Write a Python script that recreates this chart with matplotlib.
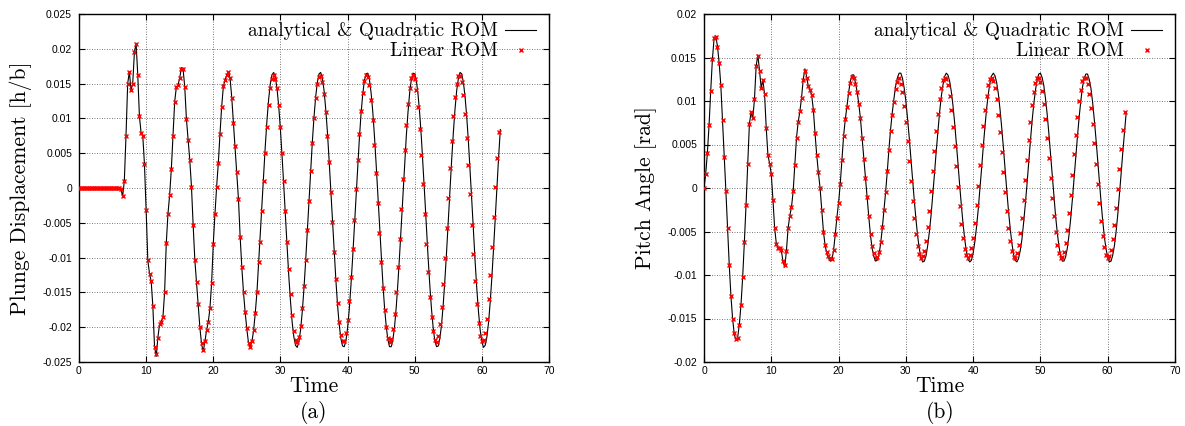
"""Plunge and pitch response of the airfoil: analytical/quadratic ROM against
the linear ROM, two panels side by side in the gnuplot look of the original."""

import matplotlib.pyplot as plt
import numpy as np
from matplotlib.ticker import FuncFormatter

# sampling step of both solutions
dt = 0.25

# (a) plunge displacement h/b, analytical & quadratic ROM
plunge_exact = [0.0] * 25 + [
    -0.0002, -0.0012, 0.0010, 0.0075, 0.0150, 0.0167, 0.0141, 0.0150, 0.0195, 0.0208,
    0.0163, 0.0103, 0.0079, 0.0075, 0.0034, -0.0032, -0.0104, -0.0123, -0.0134, -0.0170,
    -0.0228, -0.0242, -0.0215, -0.0195, -0.0192, -0.0186, -0.0150, -0.0079, -0.0037, -0.0010,
    0.0027, 0.0074, 0.0124, 0.0145, 0.0148, 0.0158, 0.0173, 0.0171, 0.0145, 0.0099,
    0.0069, 0.0040, 0.0002, -0.0053, -0.0103, -0.0135, -0.0166, -0.0200, -0.0224, -0.0235,
    -0.0221, -0.0204, -0.0193, -0.0173, -0.0137, -0.0080, -0.0037, 0.0002, 0.0036, 0.0078,
    0.0117, 0.0146, 0.0155, 0.0162, 0.0167, 0.0158, 0.0130, 0.0094, 0.0060, 0.0023,
    -0.0016, -0.0070, -0.0114, -0.0150, -0.0179, -0.0203, -0.0223, -0.0229, -0.0221, -0.0205,
    -0.0180, -0.0150, -0.0108,
    -0.0068, -0.0024, 0.0020, 0.0061, 0.0098, 0.0128, 0.0150, 0.0163, 0.0166, 0.0159,
    0.0142, 0.0117, 0.0084, 0.0045, 0.0003, -0.0042, -0.0085, -0.0127, -0.0163, -0.0193,
    -0.0214, -0.0226, -0.0229, -0.0221, -0.0204, -0.0178, -0.0145, -0.0106, -0.0063, -0.0019,
    0.0025, 0.0066, 0.0102, 0.0131, 0.0152, 0.0164, 0.0166, 0.0157, 0.0140, 0.0113,
    0.0080, 0.0040, -0.0003, -0.0047, -0.0091, -0.0131, -0.0167, -0.0196, -0.0216, -0.0227,
    -0.0228, -0.0220, -0.0201, -0.0175, -0.0140, -0.0101, -0.0058, -0.0013, 0.0030, 0.0070,
    0.0106, 0.0134, 0.0154, 0.0164, 0.0165, 0.0156, 0.0137, 0.0110, 0.0075, 0.0035,
    -0.0008, -0.0052, -0.0096, -0.0136, -0.0171, -0.0198, -0.0218, -0.0228, -0.0228, -0.0218,
    -0.0199, -0.0171, -0.0136, -0.0096, -0.0053, -0.0008, 0.0035, 0.0075, 0.0109, 0.0137,
    0.0156, 0.0165, 0.0164, 0.0154, 0.0134, 0.0106, 0.0071, 0.0030, -0.0013, -0.0058,
    -0.0101, -0.0140, -0.0174, -0.0201, -0.0220, -0.0228, -0.0227, -0.0216, -0.0196, -0.0167,
    -0.0131, -0.0091, -0.0047, -0.0003, 0.0040, 0.0079, 0.0113, 0.0140, 0.0157, 0.0166,
    0.0164, 0.0152, 0.0131, 0.0102, 0.0066, 0.0025, -0.0018, -0.0063, -0.0106, -0.0145,
    -0.0178, -0.0204, -0.0221, -0.0229, -0.0226, -0.0214, -0.0193, -0.0163, -0.0127, -0.0086,
    -0.0042, 0.0002, 0.0045, 0.0084,
]

# (a) plunge displacement h/b, linear ROM
plunge_linear = [0.0] * 25 + [
    -0.0002, -0.0012, 0.0010, 0.0075, 0.0150, 0.0166, 0.0141, 0.0150, 0.0195, 0.0207,
    0.0163, 0.0103, 0.0079, 0.0075, 0.0034, -0.0032, -0.0104, -0.0123, -0.0134, -0.0170,
    -0.0228, -0.0239, -0.0215, -0.0195, -0.0192, -0.0186, -0.0150, -0.0079, -0.0037, -0.0010,
    0.0027, 0.0074, 0.0124, 0.0145, 0.0148, 0.0158, 0.0171, 0.0171, 0.0145, 0.0099,
    0.0069, 0.0040, 0.0002, -0.0053, -0.0103, -0.0135, -0.0166, -0.0200, -0.0223, -0.0233,
    -0.0220, -0.0204, -0.0193, -0.0173, -0.0137, -0.0080, -0.0037, 0.0002, 0.0036, 0.0078,
    0.0117, 0.0146, 0.0155, 0.0162, 0.0166, 0.0158, 0.0130, 0.0094, 0.0060, 0.0023,
    -0.0016, -0.0070, -0.0114, -0.0150, -0.0178, -0.0201, -0.0222, -0.0228, -0.0220, -0.0204,
    -0.0179, -0.0150, -0.0106,
    -0.0077, -0.0033, 0.0010, 0.0051, 0.0088, 0.0119, 0.0143, 0.0157, 0.0162, 0.0157,
    0.0143, 0.0119, 0.0088, 0.0051, 0.0010, -0.0033, -0.0077, -0.0117, -0.0153, -0.0183,
    -0.0205, -0.0218, -0.0221, -0.0214, -0.0198, -0.0173, -0.0141, -0.0103, -0.0061, -0.0018,
    0.0025, 0.0065, 0.0100, 0.0129, 0.0149, 0.0160, 0.0161, 0.0153, 0.0135, 0.0109,
    0.0075, 0.0037, -0.0006, -0.0049, -0.0092, -0.0131, -0.0165, -0.0192, -0.0211, -0.0220,
    -0.0220, -0.0209, -0.0190, -0.0162, -0.0128, -0.0088, -0.0046, -0.0002, 0.0040, 0.0078,
    0.0111, 0.0137, 0.0154, 0.0162, 0.0159, 0.0148, 0.0127, 0.0097, 0.0062, 0.0022,
    -0.0021, -0.0065, -0.0106, -0.0144, -0.0175, -0.0200, -0.0215, -0.0221, -0.0217, -0.0203,
    -0.0181, -0.0150, -0.0114, -0.0073, -0.0030, 0.0013, 0.0054, 0.0091, 0.0121, 0.0144,
    0.0158, 0.0162, 0.0156, 0.0141, 0.0117, 0.0085, 0.0048, 0.0006, -0.0037, -0.0080,
    -0.0120, -0.0156, -0.0185, -0.0206, -0.0218, -0.0221, -0.0213, -0.0196, -0.0171, -0.0138,
    -0.0100, -0.0058, -0.0014, 0.0029, 0.0068, 0.0103, 0.0131, 0.0150, 0.0161, 0.0161,
    0.0152, 0.0133, 0.0106, 0.0072, 0.0033, -0.0009, -0.0053, -0.0095, -0.0134, -0.0167,
    -0.0194, -0.0212, -0.0220, -0.0219, -0.0208, -0.0188, -0.0160, -0.0125, -0.0085, -0.0042,
    0.0001, 0.0043, 0.0081,
]

# (b) pitch angle [rad], analytical & quadratic ROM
pitch_exact = [
    0.0000, 0.0016, 0.0040, 0.0072, 0.0112, 0.0148, 0.0172, 0.0175, 0.0163, 0.0144,
    0.0118, 0.0078, 0.0036, -0.0003, -0.0046, -0.0088, -0.0124, -0.0150, -0.0168, -0.0175,
    -0.0172, -0.0157, -0.0134, -0.0102, -0.0062, -0.0019, 0.0028, 0.0074, 0.0087, 0.0080,
    0.0102, 0.0140, 0.0153, 0.0135, 0.0115, 0.0124, 0.0108, 0.0069, 0.0038, 0.0028,
    0.0016, -0.0014, -0.0046, -0.0064, -0.0069, -0.0069, -0.0072, -0.0085, -0.0091, -0.0072,
    -0.0046, -0.0032, -0.0022, -0.0004, 0.0027, 0.0058, 0.0076, 0.0088, 0.0104, 0.0125,
    0.0137, 0.0128, 0.0117, 0.0113, 0.0107, 0.0090, 0.0063, 0.0038, 0.0018, 0.0000,
    -0.0025, -0.0050, -0.0066, -0.0075, -0.0080, -0.0084, -0.0083, -0.0072, -0.0054, -0.0034,
    -0.0017, 0.0005, 0.0032, 0.0060, 0.0079, 0.0094, 0.0110, 0.0123, 0.0130, 0.0130,
    0.0121, 0.0111, 0.0097, 0.0080, 0.0057, 0.0033, 0.0011, -0.0011, -0.0034, -0.0055,
    -0.0070, -0.0079, -0.0084, -0.0083, -0.0077, -0.0064, -0.0046, -0.0025, -0.0004, 0.0020,
    0.0046, 0.0069, 0.0088, 0.0104, 0.0118, 0.0127,
    0.0132, 0.0132, 0.0126, 0.0115, 0.0100, 0.0080, 0.0058, 0.0034, 0.0010, -0.0014,
    -0.0036, -0.0055, -0.0070, -0.0080, -0.0085, -0.0084, -0.0078, -0.0066, -0.0050, -0.0031,
    -0.0008, 0.0016, 0.0041, 0.0064, 0.0086, 0.0104, 0.0118, 0.0128, 0.0132, 0.0130,
    0.0123, 0.0111, 0.0095, 0.0075, 0.0052, 0.0028, 0.0003, -0.0020, -0.0041, -0.0059,
    -0.0073, -0.0082, -0.0085, -0.0083, -0.0075, -0.0062, -0.0045, -0.0025, -0.0002, 0.0022,
    0.0047, 0.0070, 0.0091, 0.0108, 0.0121, 0.0129, 0.0132, 0.0129, 0.0121, 0.0108,
    0.0090, 0.0069, 0.0046, 0.0021, -0.0003, -0.0026, -0.0046, -0.0063, -0.0076, -0.0083,
    -0.0085, -0.0081, -0.0072, -0.0059, -0.0040, -0.0019, 0.0004, 0.0029, 0.0053, 0.0076,
    0.0096, 0.0112, 0.0124, 0.0131, 0.0132, 0.0127, 0.0118, 0.0103, 0.0085, 0.0063,
    0.0039, 0.0015, -0.0009, -0.0032, -0.0051, -0.0067, -0.0078, -0.0084, -0.0084, -0.0079,
    -0.0069, -0.0054, -0.0035, -0.0013, 0.0011, 0.0035, 0.0059, 0.0081, 0.0100, 0.0116,
    0.0126, 0.0131, 0.0131, 0.0125, 0.0115, 0.0099, 0.0079, 0.0057, 0.0033, 0.0009,
    -0.0015, -0.0037, -0.0056, -0.0070, -0.0080, -0.0085, -0.0084, -0.0077, -0.0066, -0.0050,
    -0.0030, -0.0007, 0.0017, 0.0042, 0.0065, 0.0087,
]

# (b) pitch angle [rad], linear ROM
pitch_linear = [
    0.0000, 0.0016, 0.0040, 0.0072, 0.0112, 0.0148, 0.0172, 0.0173, 0.0162, 0.0144,
    0.0118, 0.0078, 0.0036, -0.0003, -0.0046, -0.0088, -0.0124, -0.0150, -0.0167, -0.0174,
    -0.0172, -0.0157, -0.0134, -0.0102, -0.0062, -0.0019, 0.0028, 0.0074, 0.0087, 0.0080,
    0.0102, 0.0140, 0.0152, 0.0135, 0.0115, 0.0124, 0.0108, 0.0069, 0.0038, 0.0028,
    0.0016, -0.0014, -0.0046, -0.0064, -0.0069, -0.0069, -0.0071, -0.0084, -0.0089, -0.0072,
    -0.0046, -0.0032, -0.0022, -0.0004, 0.0027, 0.0058, 0.0076, 0.0088, 0.0104, 0.0124,
    0.0134, 0.0127, 0.0117, 0.0113, 0.0107, 0.0090, 0.0063, 0.0038, 0.0018, 0.0000,
    -0.0025, -0.0050, -0.0065, -0.0073, -0.0078, -0.0081, -0.0082, -0.0071, -0.0053, -0.0034,
    -0.0017, 0.0005, 0.0032, 0.0060, 0.0079, 0.0093, 0.0109, 0.0121, 0.0128, 0.0127,
    0.0119, 0.0110, 0.0097, 0.0080, 0.0057, 0.0033, 0.0011, -0.0010, -0.0032, -0.0053,
    -0.0067, -0.0075, -0.0080, -0.0079, -0.0074, -0.0062, -0.0045, -0.0025, -0.0005, 0.0019,
    0.0044, 0.0066, 0.0084, 0.0099, 0.0114, 0.0122,
    0.0126, 0.0120, 0.0110, 0.0094, 0.0076, 0.0054, 0.0031, 0.0008, -0.0015, -0.0035,
    -0.0053, -0.0067, -0.0076, -0.0080, -0.0078, -0.0072, -0.0061, -0.0045, -0.0026, -0.0004,
    0.0019, 0.0042, 0.0065, 0.0085, 0.0102, 0.0115, 0.0124, 0.0127, 0.0125, 0.0118,
    0.0106, 0.0090, 0.0070, 0.0048, 0.0025, 0.0001, -0.0021, -0.0041, -0.0057, -0.0070,
    -0.0077, -0.0080, -0.0077, -0.0069, -0.0057, -0.0040, -0.0020, 0.0002, 0.0026, 0.0049,
    0.0071, 0.0090, 0.0106, 0.0118, 0.0125, 0.0127, 0.0123, 0.0115, 0.0102, 0.0084,
    0.0064, 0.0041, 0.0018, -0.0005, -0.0027, -0.0046, -0.0061, -0.0072, -0.0079, -0.0080,
    -0.0075, -0.0066, -0.0052, -0.0035, -0.0014, 0.0009, 0.0032, 0.0055, 0.0076, 0.0095,
    0.0110, 0.0121, 0.0126, 0.0127, 0.0122, 0.0112, 0.0097, 0.0079, 0.0058, 0.0035,
    0.0012, -0.0011, -0.0032, -0.0050, -0.0065, -0.0075, -0.0080, -0.0079, -0.0073, -0.0063,
    -0.0048, -0.0029, -0.0008, 0.0015, 0.0039, 0.0061, 0.0082, 0.0100, 0.0113, 0.0123,
    0.0127, 0.0126, 0.0119, 0.0108, 0.0092, 0.0073, 0.0052, 0.0028, 0.0005, -0.0017,
    -0.0038, -0.0055, -0.0068, -0.0077, -0.0080, -0.0078, -0.0071, -0.0059, -0.0043, -0.0023,
    -0.0001, 0.0022, 0.0045, 0.0067, 0.0087,
]

x_ticks = [0, 10, 20, 30, 40, 50, 60, 70]
plunge_ticks = [-0.025, -0.02, -0.015, -0.01, -0.005, 0, 0.005, 0.01, 0.015, 0.02, 0.025]
pitch_ticks = [-0.02, -0.015, -0.01, -0.005, 0, 0.005, 0.01, 0.015, 0.02]

SERIF = 'cmr10'
SANS = 'Liberation Sans'


def configure_plot():
    """Global settings for the gnuplot-like look."""
    plt.rcParams.update({
        'font.family': SANS,
        'axes.unicode_minus': False,
        'axes.linewidth': 1.0,
    })


def draw_panel(ax, exact, linear):
    """Black line for the exact solution, red crosses for the linear ROM."""
    t_exact = np.arange(len(exact)) * dt
    t_linear = np.arange(len(linear)) * dt
    ax.plot(t_exact, exact, color='black', linewidth=0.8,
            label='analytical & Quadratic ROM', zorder=2)
    ax.plot(t_linear, linear, linestyle='none', marker='x', markersize=3.2,
            markeredgewidth=1.0, color='red', label='Linear ROM', zorder=3)


def style_panel(ax, yticks, ylabel):
    """Axes limits, ticks, grid, labels and legend."""
    ax.set_xlim(0, 70)
    ax.set_ylim(yticks[0], yticks[-1])
    ax.set_xticks(x_ticks)
    ax.set_yticks(yticks)
    ax.yaxis.set_major_formatter(FuncFormatter(lambda v, p: f'{v:g}'))
    ax.tick_params(direction='in', top=True, right=True, length=4, width=0.8,
                   labelsize=7.5)
    ax.tick_params(axis='x', pad=3)
    ax.tick_params(axis='y', pad=5)
    ax.grid(True, color='0.3', linestyle=(0, (1, 2)), linewidth=0.6)
    ax.set_axisbelow(True)
    ax.set_xlabel('Time', fontfamily=SERIF, fontsize=15.5, labelpad=0)
    ax.set_ylabel(ylabel, fontfamily=SERIF, fontsize=15.5)
    ax.yaxis.set_label_coords(-0.1, 0.5)
    ax.legend(loc='upper right', bbox_to_anchor=(1, 1.012), markerfirst=False,
              frameon=False, prop={'family': SERIF, 'size': 14},
              handlelength=1.6, handletextpad=0.4, labelspacing=0.1,
              borderaxespad=0.25, borderpad=0.4)


def main():
    configure_plot()

    fig = plt.figure(figsize=(11.85, 4.26), dpi=100)
    ax_a = fig.add_axes([79 / 1185, 64 / 426, 470 / 1185, 348 / 426])
    ax_b = fig.add_axes([704 / 1185, 64 / 426, 471 / 1185, 348 / 426])

    draw_panel(ax_a, plunge_exact, plunge_linear)
    draw_panel(ax_b, pitch_exact, pitch_linear)

    style_panel(ax_a, plunge_ticks, 'Plunge Displacement [h/b]')
    style_panel(ax_b, pitch_ticks, 'Pitch Angle [rad]')

    # sub-figure captions
    fig.text(314 / 1185, 1 - 412 / 426, '(a)', ha='center', va='center',
             fontfamily=SERIF, fontsize=15.5)
    fig.text(940 / 1185, 1 - 412 / 426, '(b)', ha='center', va='center',
             fontfamily=SERIF, fontsize=15.5)

    fig.savefig('out.png', dpi=100)


if __name__ == "__main__":
    main()
